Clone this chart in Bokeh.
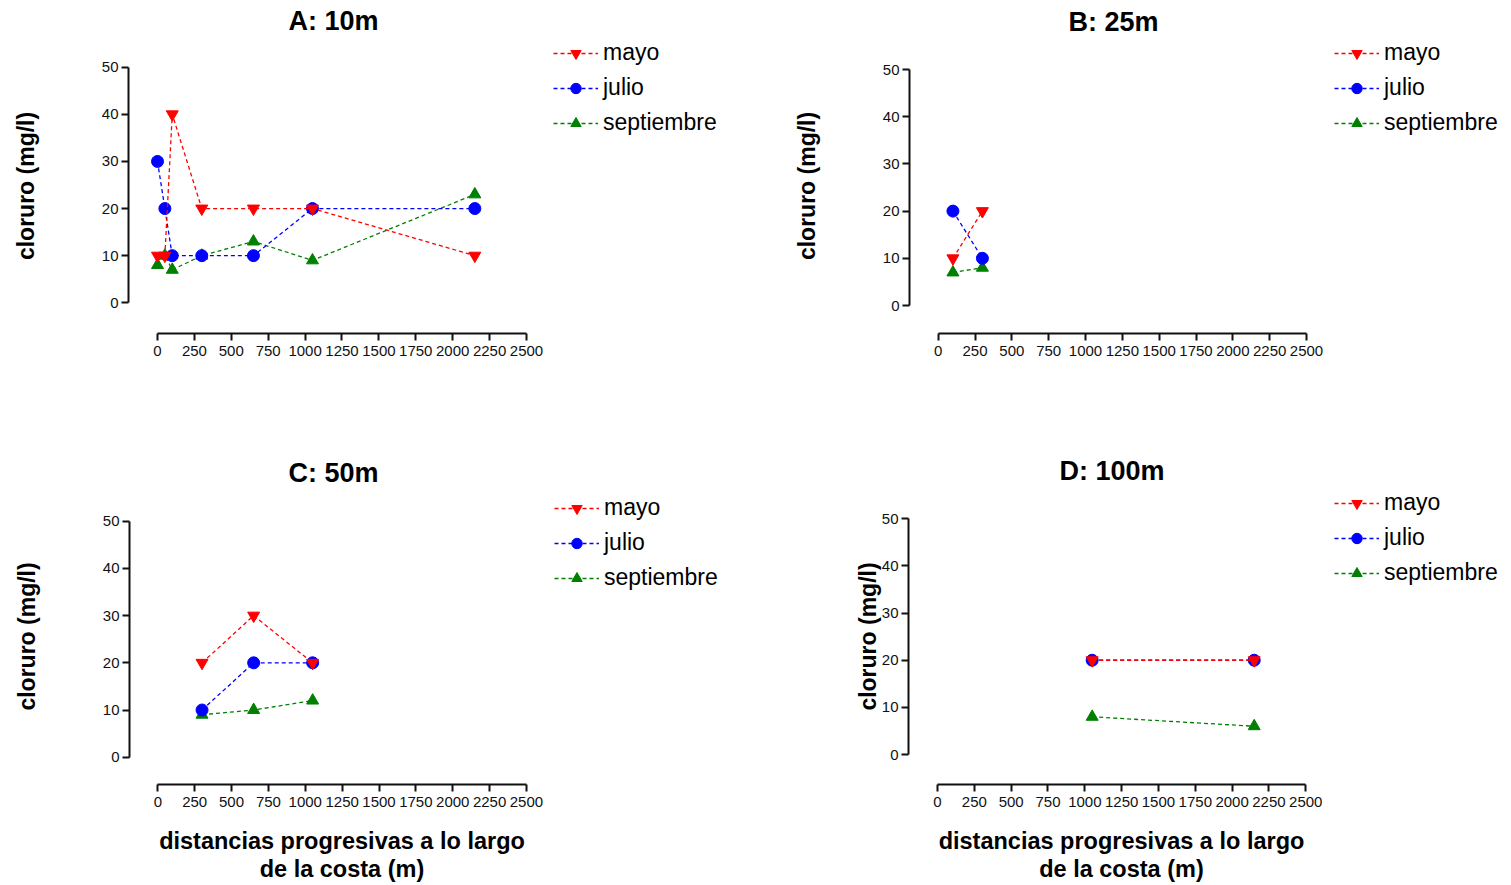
from bokeh.plotting import figure
from bokeh.models import FixedTicker, Legend, LegendItem, Range1d
from bokeh.layouts import column, row
from bokeh.embed import file_html
from bokeh.resources import INLINE

# ---------------- data ----------------
x_ticks = [0, 250, 500, 750, 1000, 1250, 1500, 1750, 2000, 2250, 2500]
y_ticks = [0, 10, 20, 30, 40, 50]
series_names = ["mayo", "julio", "septiembre"]

titles = ["A: 10m", "B: 25m", "C: 50m", "D: 100m"]
y_label = "cloruro (mg/l)"
x_label = "distancias progresivas a lo largo\nde la costa (m)"

# A: 10m
A_dist = [0, 50, 100, 300, 650, 1050, 2150]
A_mayo = [10, 10, 40, 20, 20, 20, 10]
A_julio = [30, 20, 10, 10, 10, 20, 20]
A_sept = [8, 10, 7, 10, 13, 9, 23]

# B: 25m
B_dist = [100, 300]
B_mayo = [10, 20]
B_julio = [20, 10]
B_sept = [7, 8]

# C: 50m
C_dist = [300, 650, 1050]
C_mayo = [20, 30, 20]
C_julio = [10, 20, 20]
C_sept = [9, 10, 12]

# D: 100m
D_dist = [1050, 2150]
D_mayo = [20, 20]
D_julio = [20, 20]
D_sept = [8, 6]

# ---------------- styling ----------------
FONT = "Liberation Sans"
colors = {"mayo": "#FF0000", "julio": "#0000FF", "septiembre": "#008000"}
markers = {"mayo": "inverted_triangle", "julio": "circle", "septiembre": "triangle"}
LINE_DASH = "4 3"

ROW1_TOP, ROW1_BOTTOM, ROW1_H = 38, 107, 440
ROW2_TOP, ROW2_BOTTOM, ROW2_H = 48, 101, 445


def add_series(p, dist, vals):
    rends = {}
    for name in ["septiembre", "julio", "mayo"]:
        c = colors[name]
        lr = p.line(dist, vals[name], line_color=c, line_width=1.3, line_dash=LINE_DASH)
        sr = p.scatter(dist, vals[name], marker=markers[name], size=12,
                       fill_color=c, line_color=c)
        rends[name] = [lr, sr]
    return rends


def panel(title, dist, vals, width, height, borders, xr, yr,
          title_offset, title_standoff, ylab_standoff, show_xlabel):
    bl, bt, bb = borders
    p = figure(width=width, height=height, output_backend="svg", toolbar_location=None,
               x_range=Range1d(*xr), y_range=Range1d(*yr),
               min_border_left=bl, min_border_right=0, min_border_top=bt, min_border_bottom=bb)
    p.outline_line_color = None
    p.grid.visible = False
    p.background_fill_color = "white"
    p.border_fill_color = "white"

    p.title.text = title
    p.title.align = "left"
    p.title.offset = title_offset
    p.title.text_font = FONT
    p.title.text_font_size = "27px"
    p.title.text_font_style = "bold"
    p.title.text_color = "black"
    p.title.text_line_height = 1.0
    p.title.standoff = title_standoff

    for ax, bounds, ticks in ((p.xaxis[0], (0, 2500), x_ticks), (p.yaxis[0], (0, 50), y_ticks)):
        ax.bounds = bounds
        ax.ticker = FixedTicker(ticks=ticks)
        ax.minor_tick_line_color = None
        ax.major_tick_in = 0
        ax.major_tick_out = 7
        ax.axis_line_width = 2
        ax.major_tick_line_width = 2
        ax.axis_line_color = "#111111"
        ax.major_tick_line_color = "#111111"
        ax.major_label_text_font = FONT
        ax.major_label_text_font_size = "15px"
        ax.major_label_text_color = "#111111"
        ax.axis_label_text_font = FONT
        ax.axis_label_text_font_style = "bold"
        ax.axis_label_text_color = "black"

    p.yaxis[0].axis_label_text_font_size = "23px"
    p.xaxis[0].axis_label_text_font_size = "23.5px"
    p.yaxis[0].major_label_standoff = 3
    p.xaxis[0].major_label_standoff = 5
    p.yaxis[0].axis_label = y_label
    p.yaxis[0].axis_label_standoff = ylab_standoff
    if show_xlabel:
        p.xaxis[0].axis_label = x_label
        p.xaxis[0].axis_label_standoff = 18
        p.xaxis[0].axis_label_text_line_height = 1.1

    add_series(p, dist, vals)
    return p


def legend_fig(dist, vals, width, height, top, bottom, loc):
    # a frame that only shows the legend of the panel at its left;
    # its ranges keep the series themselves out of view
    f = figure(width=width, height=height, output_backend="svg", toolbar_location=None,
               x_range=Range1d(-2, -1), y_range=Range1d(-2, -1),
               x_axis_type=None, y_axis_type=None,
               min_border_left=0, min_border_right=0, min_border_top=top, min_border_bottom=bottom)
    f.outline_line_color = None
    f.grid.visible = False
    rends = add_series(f, dist, vals)
    items = [LegendItem(label=n, renderers=rends[n]) for n in series_names]
    legend = Legend(items=items, location=loc, padding=0, margin=0, spacing=8,
                    glyph_width=45, glyph_height=26, label_height=26, label_standoff=5,
                    label_text_font=FONT, label_text_font_size="23px",
                    label_text_color="black",
                    border_line_color=None, background_fill_alpha=0)
    f.add_layout(legend)
    return f


A_vals = {"mayo": A_mayo, "julio": A_julio, "septiembre": A_sept}
B_vals = {"mayo": B_mayo, "julio": B_julio, "septiembre": B_sept}
C_vals = {"mayo": C_mayo, "julio": C_julio, "septiembre": C_sept}
D_vals = {"mayo": D_mayo, "julio": D_julio, "septiembre": D_sept}

pA = panel(titles[0], A_dist, A_vals, 553, ROW1_H, (128, ROW1_TOP, ROW1_BOTTOM),
           (-196.5, 2683), (-6.52, 56.09), 160, 6, 60, False)
lA = legend_fig(A_dist, A_vals, 207, ROW1_H, ROW1_TOP, ROW1_BOTTOM, (0, 197))
pB = panel(titles[1], B_dist, B_vals, 574, ROW1_H, (149, ROW1_TOP, ROW1_BOTTOM),
           (-194.8, 2690), (-5.93, 56.57), 159, 4, 60, False)
lB = legend_fig(B_dist, B_vals, 177, ROW1_H, ROW1_TOP, ROW1_BOTTOM, (0, 197))
pC = panel(titles[2], C_dist, C_vals, 554, ROW2_H, (129, ROW2_TOP, ROW2_BOTTOM),
           (-191.9, 2690), (-5.78, 56.93), 159, 2, 60, True)
lC = legend_fig(C_dist, C_vals, 206, ROW2_H, ROW2_TOP, ROW2_BOTTOM, (0, 193))
pD = panel(titles[3], D_dist, D_vals, 574, ROW2_H, (148, ROW2_TOP, ROW2_BOTTOM),
           (-196.9, 2695), (-6.36, 56.43), 151, 5, -2, True)
lD = legend_fig(D_dist, D_vals, 177, ROW2_H, ROW2_TOP, ROW2_BOTTOM, (0, 198))

layout = column(row(pA, lA, pB, lB), row(pC, lC, pD, lD))
open("out.html", "w").write(file_html(layout, INLINE))
